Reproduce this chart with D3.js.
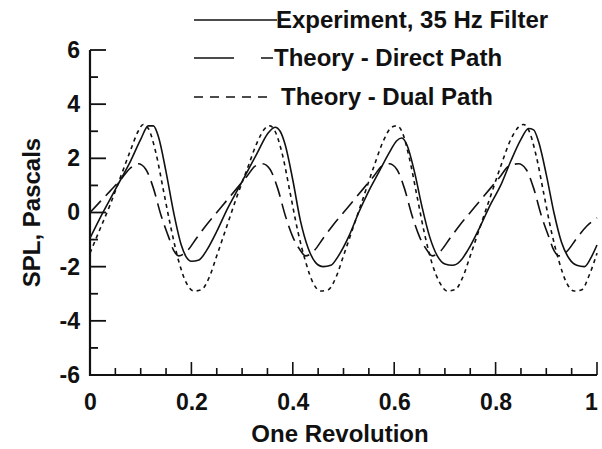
<!DOCTYPE html>
<html>
<head>
<meta charset="utf-8">
<script src="https://cdn.jsdelivr.net/npm/d3@7"></script>
<style>
  body { margin: 0; background: #fff; }
  text { font-family: "Liberation Sans", Arial, sans-serif; font-weight: bold; fill: #111; }
</style>
</head>
<body>
<script>
// page size matches the reference picture
var width = 602,
	height = 449;

// readings, x is fraction of one revolution, y is SPL in pascals
var expX = [0, 0.02, 0.04, 0.06, 0.08, 0.1, 0.115, 0.125, 0.135, 0.15, 0.165, 0.18, 0.19, 0.2, 0.215, 0.23, 0.25, 0.27, 0.29, 0.31, 0.33, 0.35, 0.365, 0.375, 0.385, 0.4, 0.415, 0.43, 0.445, 0.46, 0.475, 0.49, 0.51, 0.53, 0.55, 0.57, 0.59, 0.605, 0.615, 0.625, 0.64, 0.655, 0.67, 0.685, 0.7, 0.715, 0.73, 0.745, 0.77, 0.79, 0.81, 0.83, 0.85, 0.865, 0.875, 0.885, 0.9, 0.915, 0.93, 0.945, 0.96, 0.975, 0.99, 1.0];
var expY = [-0.95, -0.2, 0.5, 1.2, 1.9, 2.7, 3.2, 3.2, 2.8, 1.5, 0.0, -1.2, -1.65, -1.8, -1.75, -1.4, -0.7, 0.1, 0.8, 1.5, 2.2, 2.9, 3.15, 3.0, 2.5, 1.2, -0.3, -1.3, -1.85, -2.0, -1.95, -1.6, -0.9, 0.0, 0.8, 1.5, 2.2, 2.65, 2.75, 2.5, 1.5, 0.2, -0.9, -1.6, -1.9, -1.95, -1.8, -1.4, -0.5, 0.3, 1.0, 1.9, 2.7, 3.1, 3.05, 2.6, 1.4, 0.0, -1.1, -1.7, -1.95, -2.0, -1.6, -1.2];

var directX = [0, 0.02, 0.04, 0.06, 0.08, 0.095, 0.11, 0.125, 0.14, 0.155, 0.165, 0.175, 0.19, 0.21, 0.23, 0.25, 0.27, 0.29, 0.31, 0.325, 0.34, 0.355, 0.37, 0.385, 0.4, 0.415, 0.425, 0.44, 0.46, 0.48, 0.5, 0.52, 0.54, 0.56, 0.575, 0.59, 0.605, 0.62, 0.635, 0.65, 0.665, 0.675, 0.69, 0.71, 0.73, 0.75, 0.77, 0.79, 0.81, 0.825, 0.845, 0.86, 0.875, 0.89, 0.905, 0.915, 0.925, 0.94, 0.96, 0.98, 1.0];
var directY = [0.0, 0.4, 0.8, 1.2, 1.65, 1.8, 1.6, 0.9, -0.1, -0.9, -1.4, -1.6, -1.45, -0.95, -0.45, 0.0, 0.45, 0.9, 1.35, 1.7, 1.8, 1.6, 0.9, -0.1, -0.9, -1.4, -1.6, -1.45, -0.95, -0.45, 0.0, 0.45, 0.9, 1.35, 1.7, 1.8, 1.6, 0.9, -0.1, -0.9, -1.4, -1.6, -1.45, -0.95, -0.45, 0.0, 0.45, 0.9, 1.35, 1.7, 1.8, 1.6, 0.9, -0.1, -0.9, -1.4, -1.6, -1.45, -0.95, -0.5, -0.2];

var dualX = [0, 0.02, 0.04, 0.06, 0.08, 0.095, 0.105, 0.115, 0.13, 0.145, 0.16, 0.175, 0.19, 0.205, 0.22, 0.235, 0.25, 0.27, 0.29, 0.31, 0.33, 0.345, 0.355, 0.365, 0.38, 0.395, 0.41, 0.425, 0.44, 0.455, 0.47, 0.485, 0.5, 0.52, 0.54, 0.56, 0.58, 0.595, 0.605, 0.615, 0.63, 0.645, 0.66, 0.675, 0.69, 0.705, 0.72, 0.735, 0.75, 0.77, 0.79, 0.81, 0.83, 0.845, 0.855, 0.865, 0.88, 0.895, 0.91, 0.925, 0.94, 0.955, 0.97, 0.985, 1.0];
var dualY = [-1.5, -0.6, 0.3, 1.3, 2.3, 3.0, 3.25, 3.1, 2.2, 0.8, -0.6, -1.8, -2.6, -2.9, -2.85, -2.4, -1.6, -0.5, 0.6, 1.6, 2.6, 3.1, 3.2, 3.0, 2.1, 0.7, -0.7, -1.8, -2.6, -2.9, -2.85, -2.4, -1.6, -0.5, 0.6, 1.7, 2.7, 3.15, 3.2, 3.0, 2.0, 0.6, -0.8, -1.9, -2.6, -2.9, -2.85, -2.4, -1.6, -0.5, 0.6, 1.7, 2.7, 3.15, 3.25, 3.05, 2.1, 0.7, -0.7, -1.8, -2.6, -2.9, -2.85, -2.3, -1.5];

// tick values and labels
var xTicks = [0, 0.2, 0.4, 0.6, 0.8, 1];
var xTickLabels = ['0', '0.2', '0.4', '0.6', '0.8', '1'];
var yTicks = [-6, -4, -2, 0, 2, 4, 6];
var yTickLabels = ['-6', '-4', '-2', '0', '2', '4', '6'];

var legendNames = ['Experiment, 35 Hz Filter', 'Theory - Direct Path', 'Theory - Dual Path'];

// plot box in pixels (window.top is read only, so use other names)
var plotLeft = 90, plotRight = 597, plotTop = 50, plotBottom = 375;

var x = d3.scaleLinear().domain([0, 1]).range([plotLeft, plotRight]);
var y = d3.scaleLinear().domain([-6, 6]).range([plotBottom, plotTop]);

var svg = d3.select('body')
	.append('svg')
	.attr('width', width)
	.attr('height', height);

// axes: only the labels come from the generator, ticks are drawn below
var xAxis = d3.axisBottom(x)
	.tickValues(xTicks)
	.tickFormat(function(d, i) { return xTickLabels[i]; })
	.tickSize(0)
	.tickPadding(19);

var yAxis = d3.axisLeft(y)
	.tickValues(yTicks)
	.tickFormat(function(d, i) { return yTickLabels[i]; })
	.tickSize(0)
	.tickPadding(10);

var gx = svg.append('g')
	.attr('transform', 'translate(0,' + plotBottom + ')')
	.call(xAxis);

var gy = svg.append('g')
	.attr('transform', 'translate(' + plotLeft + ',0)')
	.call(yAxis);

[gx, gy].forEach(function(g) {
	g.select('.domain').remove();
	g.selectAll('text')
		.style('font-family', '"Liberation Sans", Arial, sans-serif')
		.style('font-weight', 'bold')
		.style('font-size', '23px')
		.attr('fill', '#111');
});

// the last label sits a little left of its tick so it stays inside the page
gx.selectAll('.tick').filter(function(d) { return d === 1; })
	.select('text')
	.attr('dx', -6);

// minor ticks, every 0.05 on x and every unit on y
var xMinor = d3.range(0, 21).map(function(i) { return i / 20; });
var yMinor = d3.range(-6, 7);

svg.append('g').selectAll('line')
	.data(xMinor)
	.enter().append('line')
	.attr('x1', function(d) { return x(d); })
	.attr('x2', function(d) { return x(d); })
	.attr('y1', plotBottom)
	.attr('y2', function(d, i) { return plotBottom - (i % 4 === 0 && i > 0 ? 13 : 7); })
	.attr('stroke', '#111')
	.attr('stroke-width', 1.6);

svg.append('g').selectAll('line')
	.data(yMinor)
	.enter().append('line')
	.attr('x1', plotLeft)
	.attr('x2', function(d) { return plotLeft + (d % 2 === 0 ? 16 : 8); })
	.attr('y1', function(d) { return y(d); })
	.attr('y2', function(d) { return y(d); })
	.attr('stroke', '#111')
	.attr('stroke-width', 1.8);

// axis lines
svg.append('path')
	.attr('d', 'M' + plotLeft + ',' + plotTop + 'V' + plotBottom + 'H' + plotRight)
	.attr('fill', 'none')
	.attr('stroke', '#111')
	.attr('stroke-width', 2.2);

// axis titles
svg.append('text')
	.attr('x', 340)
	.attr('y', 442)
	.attr('text-anchor', 'middle')
	.style('font-size', '24px')
	.text('One Revolution');

svg.append('text')
	.attr('transform', 'translate(40,' + y(0) + ') rotate(-90)')
	.attr('text-anchor', 'middle')
	.style('font-size', '24px')
	.text('SPL, Pascals');

// the three curves
var series = [
	{ xs: expX, ys: expY, dash: null },
	{ xs: directX, ys: directY, dash: '16,7' },
	{ xs: dualX, ys: dualY, dash: '4,4' }
];

var line = d3.line()
	.x(function(d) { return x(d[0]); })
	.y(function(d) { return y(d[1]); })
	.curve(d3.curveMonotoneX);

svg.append('g').selectAll('path')
	.data(series)
	.enter().append('path')
	.attr('d', function(s) { return line(d3.zip(s.xs, s.ys)); })
	.attr('fill', 'none')
	.attr('stroke', '#111')
	.attr('stroke-width', 1.6)
	.attr('stroke-dasharray', function(s) { return s.dash; });

// legend in the top right
var legendY = [20, 58, 97];
var legendDash = [null, '40,27', '9,7'];
var legendTextX = [276, 274, 281];

var legend = svg.append('g');

legend.selectAll('line')
	.data(legendNames)
	.enter().append('line')
	.attr('x1', 194)
	.attr('x2', function(d, i) { return i === 0 ? 277 : 273; })
	.attr('y1', function(d, i) { return legendY[i]; })
	.attr('y2', function(d, i) { return legendY[i]; })
	.attr('stroke', '#111')
	.attr('stroke-width', 1.6)
	.attr('stroke-dasharray', function(d, i) { return legendDash[i]; });

legend.selectAll('text')
	.data(legendNames)
	.enter().append('text')
	.attr('x', function(d, i) { return legendTextX[i]; })
	.attr('y', function(d, i) { return legendY[i] + 8; })
	.style('font-size', '24px')
	.text(function(d) { return d; });
</script>
</body>
</html>
